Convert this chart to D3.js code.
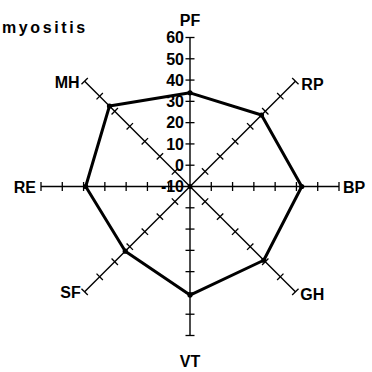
<!DOCTYPE html>
<html>
<head>
<meta charset="utf-8">
<script src="https://cdn.jsdelivr.net/npm/d3@7"></script>
<style>
  html, body { margin: 0; padding: 0; background: #fff; }
  svg { display: block; }
  text { font-family: "Liberation Sans", Arial, Helvetica, sans-serif; fill: #000; }
</style>
</head>
<body>
<script>
// SF-36 domain scores for the myositis group
const axes = ["PF", "RP", "BP", "GH", "VT", "SF", "RE", "MH"];
const values = [34, 37.5, 42.5, 39, 41, 33, 39, 43.5];
const tickValues = [-10, 0, 10, 20, 30, 40, 50, 60];
const tickLabels = ["-10", "0", "10", "20", "30", "40", "50", "60"];
const title = "myositis";

const W = 372, H = 372;
const cx = 190, cy = 186.5, R = 149;

const svg = d3.select("body").append("svg")
  .attr("width", W).attr("height", H);

const r = d3.scaleLinear().domain([-10, 60]).range([0, R]);
const angle = d3.scalePoint().domain(axes).range([0, 2 * Math.PI * (axes.length - 1) / axes.length]);

const g = svg.append("g").attr("transform", `translate(${cx},${cy})`);

const pt = (a, rad) => [Math.sin(a) * rad, -Math.cos(a) * rad];

// spokes with perpendicular tick marks
axes.forEach(name => {
  const a = angle(name);
  const [ex, ey] = pt(a, R);
  g.append("line")
    .attr("x1", 0).attr("y1", 0).attr("x2", ex).attr("y2", ey)
    .attr("stroke", "#000").attr("stroke-width", 1.4);
  const px = Math.cos(a), py = Math.sin(a); // perpendicular direction
  tickValues.slice(1).forEach(v => {
    const [tx, ty] = pt(a, r(v));
    const len = 4.5;
    g.append("line")
      .attr("x1", tx - px * len).attr("y1", ty - py * len)
      .attr("x2", tx + px * len).attr("y2", ty + py * len)
      .attr("stroke", "#000").attr("stroke-width", 1.3);
  });
});

// scale labels along the PF spoke
g.selectAll("text.tick")
  .data(tickValues)
  .join("text")
  .attr("class", "tick")
  .attr("x", -6)
  .attr("y", d => -r(d))
  .attr("dy", "0.36em")
  .attr("text-anchor", "end")
  .attr("font-size", 16)
  .attr("font-weight", "bold")
  .text((d, i) => tickLabels[i]);

// domain labels at the spoke ends
const labelPos = {
  PF: { dx: 0, dy: -12, anchor: "middle", base: "auto" },
  RP: { dx: 6, dy: 3, anchor: "start", base: "central" },
  BP: { dx: 4, dy: 1, anchor: "start", base: "central" },
  GH: { dx: 5, dy: 3, anchor: "start", base: "central" },
  VT: { dx: 0, dy: 31, anchor: "middle", base: "auto" },
  SF: { dx: -4, dy: 1, anchor: "end", base: "central" },
  RE: { dx: -5, dy: 1, anchor: "end", base: "central" },
  MH: { dx: -5, dy: 1, anchor: "end", base: "central" }
};
axes.forEach(name => {
  const [ex, ey] = pt(angle(name), R);
  const p = labelPos[name];
  g.append("text")
    .attr("x", ex + p.dx).attr("y", ey + p.dy)
    .attr("text-anchor", p.anchor)
    .attr("dominant-baseline", p.base)
    .attr("font-size", 16)
    .attr("font-weight", "bold")
    .text(name);
});

// score polygon
const radial = d3.lineRadial()
  .angle((d, i) => angle(axes[i]))
  .radius(d => r(d))
  .curve(d3.curveLinearClosed);

g.append("path")
  .attr("d", radial(values))
  .attr("fill", "none")
  .attr("stroke", "#000")
  .attr("stroke-width", 3)
  .attr("stroke-linejoin", "round");

g.selectAll("circle.pt")
  .data(values)
  .join("circle")
  .attr("class", "pt")
  .attr("cx", (d, i) => pt(angle(axes[i]), r(d))[0])
  .attr("cy", (d, i) => pt(angle(axes[i]), r(d))[1])
  .attr("r", 2.6)
  .attr("fill", "#000");

g.append("circle").attr("r", 2.5).attr("fill", "#000");

svg.append("text")
  .attr("x", 2).attr("y", 33)
  .attr("font-size", 16)
  .attr("font-weight", "bold")
  .attr("letter-spacing", 2.6)
  .text(title);
</script>
</body>
</html>
